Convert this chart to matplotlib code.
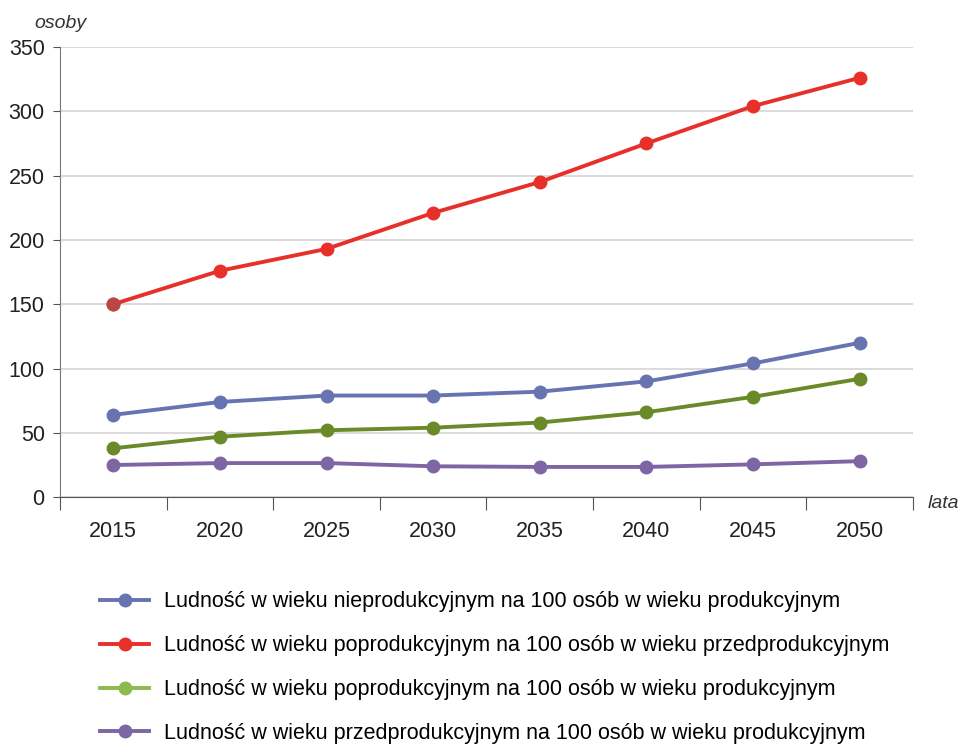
import numpy as np
import matplotlib.pyplot as plt
from matplotlib.lines import Line2D

plt.rcParams['font.family'] = ['Liberation Sans', 'DejaVu Sans']

years = ['2015', '2020', '2025', '2030', '2035', '2040', '2045', '2050']
nieprod = [64, 74, 79, 79, 82, 90, 104, 120]
poprod_przed = [150, 176, 193, 221, 245, 275, 304, 326]
poprod_prod = [38, 47, 52, 54, 58, 66, 78, 92]
przed_prod = [25, 26.5, 26.5, 24, 23.5, 23.5, 25.5, 28]

labels = [
    'Ludność w wieku nieprodukcyjnym na 100 osób w wieku produkcyjnym',
    'Ludność w wieku poprodukcyjnym na 100 osób w wieku przedprodukcyjnym',
    'Ludność w wieku poprodukcyjnym na 100 osób w wieku produkcyjnym',
    'Ludność w wieku przedprodukcyjnym na 100 osób w wieku produkcyjnym',
]
line_colors = ['#6874b2', '#e8302b', '#6a8a2a', '#7e66a4']
legend_colors = ['#6874b2', '#e8302b', '#8cba4e', '#7e66a4']

fig = plt.figure(figsize=(9.6, 7.51), dpi=100)
ax = fig.add_axes([0.0625, 0.338, 0.8885, 0.5995])

x = np.arange(len(years))
for vals, c in zip([nieprod, poprod_przed, poprod_prod, przed_prod], line_colors):
    ax.plot(x, vals, color=c, lw=2.8, marker='o', ms=9, zorder=3)
# first point of the red series is drawn darker in the original
ax.plot(x[0], poprod_przed[0], 'o', color='#b84848', ms=9, zorder=4)

ax.set_xlim(-0.5, len(years) - 0.5)
ax.set_ylim(0, 350)
ax.set_yticks(np.arange(0, 351, 50))
ax.set_xticks(np.arange(len(years) + 1) - 0.5)
ax.set_xticklabels([])
ax.set_xticks(x, minor=True)
ax.set_xticklabels(years, minor=True)
ax.tick_params(axis='x', which='major', length=9, color='#555555', direction='out')
ax.tick_params(axis='x', which='minor', length=0, pad=17, labelsize=15.5, labelcolor='#222222')
ax.tick_params(axis='y', length=5, color='#555555', labelsize=15.5, labelcolor='#222222', pad=6)

ax.yaxis.grid(True, color='#d4d4d4', lw=1.2)
ax.set_axisbelow(True)
for s in ['top', 'right']:
    ax.spines[s].set_visible(False)
ax.spines['left'].set_color('#777777')
ax.spines['bottom'].set_color('#555555')

fig.text(0.036, 0.963, 'osoby', style='italic', fontsize=14, color='#333333')
fig.text(0.966, 0.324, 'lata', style='italic', fontsize=14, color='#333333')

handles = [Line2D([], [], color=c, lw=2.8, marker='o', ms=9) for c in legend_colors]
fig.legend(handles, labels, loc='upper left', bbox_to_anchor=(0.104, 0.2125),
           frameon=False, fontsize=15.5, handlelength=2.3, handletextpad=0.7,
           labelspacing=1.06, borderaxespad=0, borderpad=0)

fig.savefig('out.png', dpi=100)
